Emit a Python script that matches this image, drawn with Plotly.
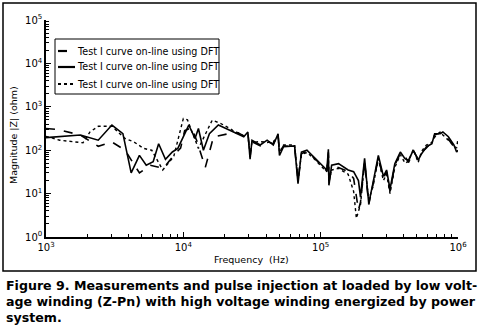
import plotly.graph_objects as go

# ---------------- data ----------------
solid_f = [1000, 1780, 2400, 3020, 3630, 4170, 4790, 5370, 6030, 6610, 7410, 8320, 9120,
           10960, 12160, 12880, 14000, 15490, 17990, 21880, 27540, 29510, 30620, 31620,
           36310, 40740, 45190, 48980, 50120, 53700, 64570, 68390, 72440, 79430, 91200,
           104700, 110900, 113800, 114800, 120200, 134900, 158500, 173800, 188400, 195000,
           208900, 223900, 239900, 263000, 286400, 302000, 319900, 346700, 380200, 412100,
           436500, 473200, 512900, 543300, 588800, 645700, 676100, 741300, 776200, 851100,
           933300, 977200, 1000000]
solid_z = [195, 224, 170, 380, 240, 30, 76, 45, 54, 141, 62, 91, 110,
           380, 186, 316, 100, 240, 380, 288, 204, 263, 62, 170,
           132, 170, 132, 240, 76, 120, 126, 17, 91, 100, 66,
           42, 35, 105, 15.5, 45, 49, 35, 32, 20, 8.3,
           65, 5.9, 17, 76, 25, 35, 12.6, 49, 91, 63,
           59, 100, 59, 83, 120, 141, 240, 240, 263, 204,
           132, 91, 100]

dash_f = [1000, 1200, 1780, 2400, 3020, 3760, 4790, 5750, 7160, 8510, 9550, 10230, 11480,
          12590, 14450, 16600, 21380, 25120, 27540, 29510, 30620, 31620, 36310, 40740,
          45190, 48980, 50120, 53700, 64570, 68390, 72440, 79430, 91200, 104700, 110900,
          113800, 114800, 120200, 134900, 158500, 173800, 188400, 195000, 208900, 223900,
          239900, 263000, 286400, 302000, 319900, 346700, 380200, 412100, 436500, 473200,
          512900, 543300, 588800, 645700, 676100, 741300, 776200, 851100, 933300, 977200,
          1000000]
dash_z = [316, 302, 224, 123, 155, 100, 30, 45, 38, 76, 112, 282, 331,
          158, 40, 204, 240, 251, 214, 251, 71, 158, 126, 158,
          141, 224, 89, 126, 120, 20, 83, 95, 63, 40, 33,
          89, 17.8, 38, 40, 32, 22.4, 4.2, 6.3, 56, 5.6,
          15.8, 66, 22.4, 32, 11.2, 45, 85, 71, 52, 95,
          63, 89, 112, 158, 224, 251, 240, 178, 120, 100,
          89]

dot_f = [1000, 1260, 1860, 2090, 2400, 3020, 3760, 4370, 5130, 5890, 7080, 8510, 10000,
         10720, 11480, 12880, 16220, 18620, 22910, 27540, 29510, 30620, 31620, 36310,
         40740, 45190, 48980, 50120, 53700, 64570, 68390, 72440, 79430, 91200, 104700,
         110900, 113800, 114800, 120200, 134900, 158500, 173800, 182000, 195000, 208900,
         223900, 239900, 263000, 286400, 302000, 319900, 346700, 380200, 412100, 436500,
         473200, 512900, 543300, 588800, 645700, 676100, 741300, 776200, 851100, 933300,
         977200, 1000000]
dot_z = [209, 170, 148, 263, 355, 355, 186, 155, 110, 100, 35, 71, 537,
         501, 282, 110, 490, 417, 288, 214, 224, 79, 151, 158,
         151, 158, 200, 89, 132, 132, 22.4, 79, 89, 60, 38,
         32, 79, 20, 35, 38, 28, 11.2, 2.7, 5.6, 50,
         7.1, 14.1, 63, 20, 28, 10, 40, 79, 50, 56,
         105, 52, 95, 132, 151, 200, 263, 224, 166, 126,
         112, 186]

legend_names = ["Test I curve on-line using DFT",
                "Test I curve on-line using DFT",
                "Test I curve on-line using DFT"]
x_tick_vals = [1e3, 1e4, 1e5, 1e6]
x_tick_text = ["10<sup>3</sup>", "10<sup>4</sup>", "10<sup>5</sup>", "10<sup>6</sup>"]
y_tick_vals = [1, 10, 100, 1e3, 1e4, 1e5]
y_tick_text = ["10<sup>0</sup>", "10<sup>1</sup>", "10<sup>2</sup>",
               "10<sup>3</sup>", "10<sup>4</sup>", "10<sup>5</sup>"]
caption_lines = ["Figure 9. Measurements and pulse injection at loaded by low volt-",
                 "age winding (Z-Pn) with high voltage winding energized by power",
                 "system."]

# ---------------- layout geometry ----------------
W, H = 479, 326
L, R, T, B = 46, 458, 20, 237   # plot area in pixels


def px(x):
    return (x - L) / (R - L)


def py(y):
    return (B - y) / (B - T)


FONT = "DejaVu Sans"

x_minor = [m * 10 ** e for e in range(3, 6) for m in range(2, 10)]
y_minor = [m * 10 ** e for e in range(0, 5) for m in range(2, 10)]

fig = go.Figure()
styles = [("dash", 1.6), ("solid", 1.6), ("dot", 1.4)]
series = [(dash_f, dash_z), (solid_f, solid_z), (dot_f, dot_z)]
for (f, z), (dash, w), name in zip(series, styles, legend_names):
    fig.add_trace(go.Scatter(x=f, y=z, mode="lines", name=name,
                             line=dict(color="black", dash=dash, width=w),
                             showlegend=False))

axis_common = dict(type="log", showgrid=False, zeroline=False, showline=True,
                   linecolor="black", linewidth=1.5, ticks="inside", ticklen=5,
                   tickwidth=1, tickcolor="black",
                   tickfont=dict(family=FONT, size=10, color="black"))

fig.update_xaxes(range=[3, 6], tickvals=x_tick_vals, ticktext=x_tick_text,
                 minor=dict(tickvals=x_minor, ticks="inside", ticklen=3,
                            tickcolor="black", showgrid=False), **axis_common)
fig.update_yaxes(range=[0, 5], tickvals=y_tick_vals, ticktext=y_tick_text,
                 minor=dict(tickvals=y_minor, ticks="inside", ticklen=3,
                            tickcolor="black", showgrid=False), **axis_common)

shapes = []
annotations = []
# outer frame
shapes.append(dict(type="rect", xref="paper", yref="paper",
                   x0=px(3), x1=px(476), y0=py(271), y1=py(3),
                   line=dict(color="black", width=1.5)))
# legend box
shapes.append(dict(type="rect", xref="paper", yref="paper",
                   x0=px(55), x1=px(219), y0=py(94), y1=py(39),
                   line=dict(color="black", width=1), fillcolor="white"))
leg_y = [51, 67, 84]
for (dash, w), name, yy in zip(styles, legend_names, leg_y):
    shapes.append(dict(type="line", xref="paper", yref="paper",
                       x0=px(58), x1=px(75), y0=py(yy), y1=py(yy),
                       line=dict(color="black", dash=dash, width=w + 0.6)))
    annotations.append(dict(xref="paper", yref="paper", x=px(75), y=py(yy),
                            text=name, showarrow=False, xanchor="left", yanchor="middle",
                            font=dict(family=FONT, size=9.6, color="black")))

# axis titles
annotations.append(dict(xref="paper", yref="paper", x=px(13), y=py(135),
                        text="Magnitude |Z| (ohm)", textangle=-90, showarrow=False,
                        xanchor="center", yanchor="middle",
                        font=dict(family=FONT, size=9.5, color="black")))
annotations.append(dict(xref="paper", yref="paper", x=px(251), y=py(259),
                        text="Frequency  (Hz)", showarrow=False,
                        xanchor="center", yanchor="middle",
                        font=dict(family=FONT, size=9.5, color="black")))
# caption
for line, yy in zip(caption_lines, [285, 301, 317]):
    annotations.append(dict(xref="paper", yref="paper", x=px(4), y=py(yy),
                            text="<b>" + line + "</b>", showarrow=False,
                            xanchor="left", yanchor="middle",
                            font=dict(family=FONT, size=12.6, color="black")))

fig.update_layout(width=W, height=H, autosize=False,
                  margin=dict(l=L, r=W - R, t=T, b=H - B, pad=0),
                  paper_bgcolor="white", plot_bgcolor="white",
                  shapes=shapes, annotations=annotations, showlegend=False)

fig.write_html("out.html", config={"displayModeBar": False},
               post_script="document.body.style.margin='0';"
                           "document.body.style.overflow='hidden';")
